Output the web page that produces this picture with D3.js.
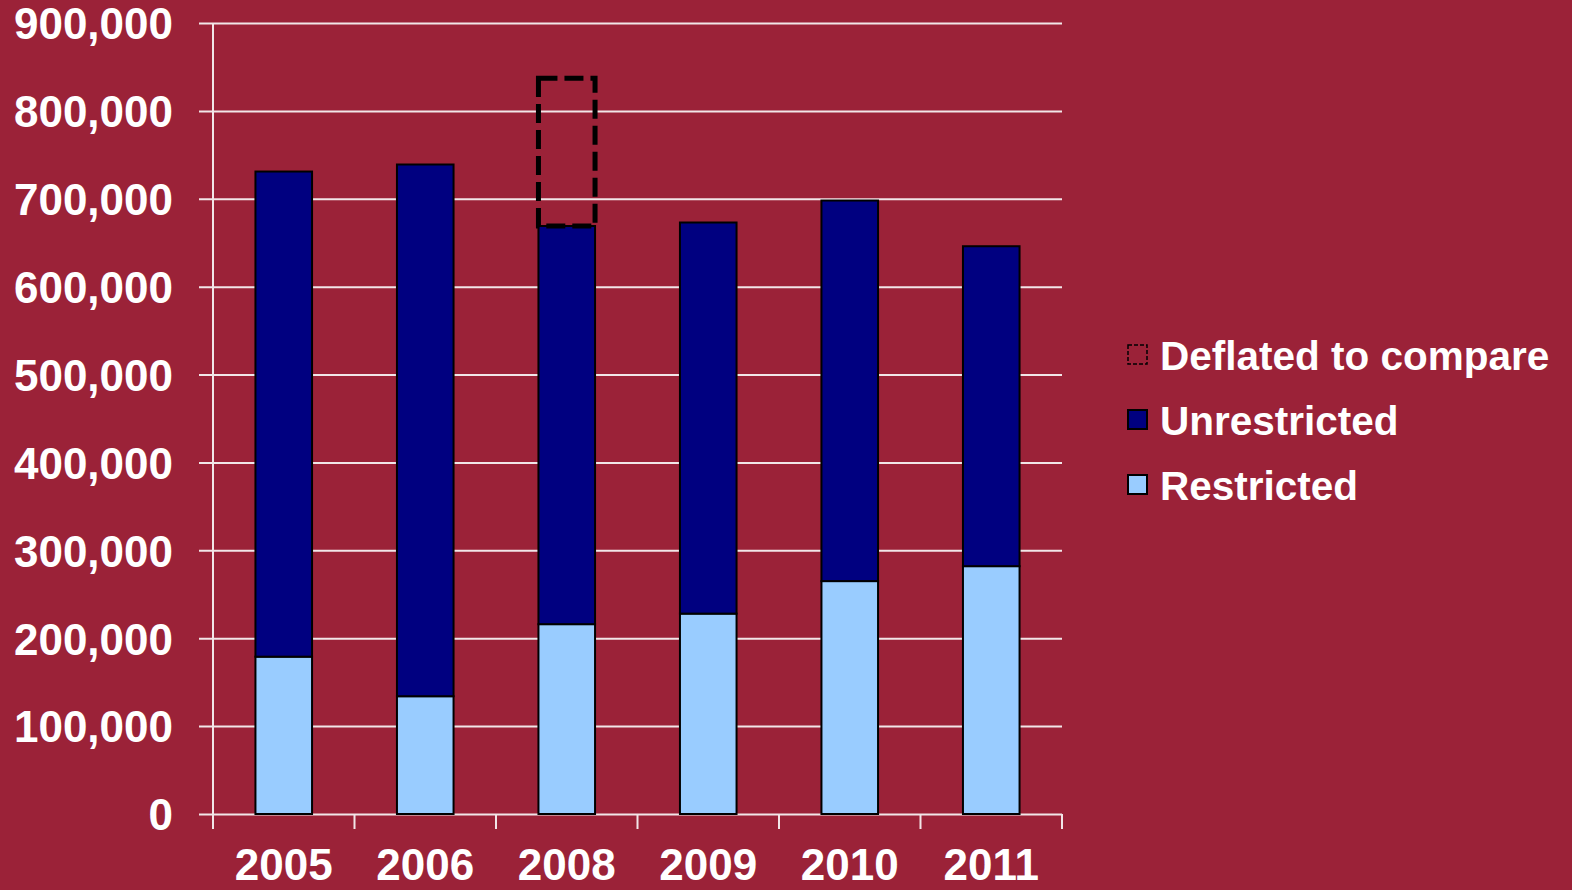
<!DOCTYPE html>
<html>
  <head>
    <meta charset="utf-8">
    <script src="https://d3js.org/d3.v7.min.js"></script>
    <style>
      html, body { margin: 0; overflow: hidden; background: #9B2238; font-family: "Liberation Sans", Arial, sans-serif; }
      svg { display: block; }
      .domain { display: none; }
      .tick line { stroke: #F2E6E8; stroke-width: 2; }
      .tick text { fill: #FFFFFF; font-size: 44px; font-weight: bold; }
      .legend text { fill: #FFFFFF; font-size: 40.5px; font-weight: bold; }
    </style>
  </head>
  <body>
    <svg id="chart" width="1572" height="890"></svg>
    <script>
      const years = ['2005', '2006', '2008', '2009', '2010', '2011'];
      const restricted = [179000, 134000, 216000, 228000, 265000, 282000];
      const unrestricted = [552000, 605000, 453000, 445000, 433000, 364000];
      const deflatedYear = '2008';
      const deflatedTotal = 837000;
      const yTicks = [0, 100000, 200000, 300000, 400000, 500000, 600000, 700000, 800000, 900000];
      const legendLabels = ['Deflated to compare', 'Unrestricted', 'Restricted'];

      (() => {
        const margin = { left: 213, right: 510, top: 23, bottom: 76 };
        const svg = d3.select('#chart');
        const width = +svg.attr('width');
        const height = +svg.attr('height');
        const innerWidth = width - margin.left - margin.right;
        const innerHeight = height - margin.top - margin.bottom;

        const g = svg.append('g')
          .attr('transform', `translate(${margin.left},${margin.top})`);

        const xScale = d3.scaleBand().domain(years).range([0, innerWidth]).paddingInner(0.6).paddingOuter(0.3);
        const xBounds = d3.scaleLinear().domain([0, years.length]).range([0, innerWidth]);
        const yScale = d3.scaleLinear().domain([0, 900000]).range([innerHeight, 0]);

        // horizontal grid + y labels
        const yAxis = d3.axisLeft(yScale)
          .tickValues(yTicks)
          .tickFormat(d3.format(','))
          .tickSize(-(innerWidth + 14))
          .tickPadding(26);
        const yAxisG = g.append('g').attr('transform', 'translate(-14,0)').call(yAxis);
        yAxisG.selectAll('.tick text').attr('dy', '0.36em');

        // y axis line
        g.append('line')
          .attr('x1', 0).attr('x2', 0)
          .attr('y1', 0).attr('y2', innerHeight)
          .attr('stroke', '#F2E6E8').attr('stroke-width', 2);

        // category boundary ticks
        g.selectAll('.xtick').data(d3.range(years.length + 1))
          .enter().append('line')
            .attr('x1', d => xBounds(d)).attr('x2', d => xBounds(d))
            .attr('y1', innerHeight).attr('y2', innerHeight + 15)
            .attr('stroke', '#F2E6E8').attr('stroke-width', 2);

        g.selectAll('.year').data(years)
          .enter().append('text')
            .attr('x', d => xScale(d) + xScale.bandwidth() / 2)
            .attr('y', innerHeight + 66)
            .attr('text-anchor', 'middle')
            .attr('fill', '#FFFFFF')
            .style('font-size', '44px')
            .style('font-weight', 'bold')
            .text(d => d);

        // restricted bars
        g.selectAll('.restricted').data(years)
          .enter().append('rect')
            .attr('x', d => xScale(d))
            .attr('width', xScale.bandwidth())
            .attr('y', (d, i) => yScale(restricted[i]))
            .attr('height', (d, i) => innerHeight - yScale(restricted[i]))
            .attr('fill', '#99CCFF')
            .attr('stroke', '#000000')
            .attr('stroke-width', 2);

        // unrestricted bars
        g.selectAll('.unrestricted').data(years)
          .enter().append('rect')
            .attr('x', d => xScale(d))
            .attr('width', xScale.bandwidth())
            .attr('y', (d, i) => yScale(restricted[i] + unrestricted[i]))
            .attr('height', (d, i) => yScale(restricted[i]) - yScale(restricted[i] + unrestricted[i]))
            .attr('fill', '#000080')
            .attr('stroke', '#000000')
            .attr('stroke-width', 2);

        // deflated dashed box
        const di = years.indexOf(deflatedYear);
        const baseTop = restricted[di] + unrestricted[di];
        g.append('rect')
          .attr('x', xScale(deflatedYear))
          .attr('width', xScale.bandwidth())
          .attr('y', yScale(deflatedTotal))
          .attr('height', yScale(baseTop) - yScale(deflatedTotal))
          .attr('fill', 'none')
          .attr('stroke', '#000000')
          .attr('stroke-width', 5)
          .attr('stroke-dasharray', '19,7');

        // legend
        const legend = svg.append('g').attr('class', 'legend')
          .attr('transform', 'translate(1128,345)');
        const rows = legend.selectAll('g').data(legendLabels)
          .enter().append('g')
            .attr('transform', (d, i) => `translate(0,${i * 65})`);
        rows.append('rect')
          .attr('width', 19).attr('height', 19)
          .attr('fill', (d, i) => ['none', '#000080', '#99CCFF'][i])
          .attr('stroke', '#000000')
          .attr('stroke-width', (d, i) => i === 0 ? 1.5 : 2)
          .attr('stroke-dasharray', (d, i) => i === 0 ? '4,2' : null);
        rows.append('text')
          .attr('x', 32)
          .attr('y', 10)
          .attr('dy', '0.36em')
          .text(d => d);
      })();
    </script>
  </body>
</html>
